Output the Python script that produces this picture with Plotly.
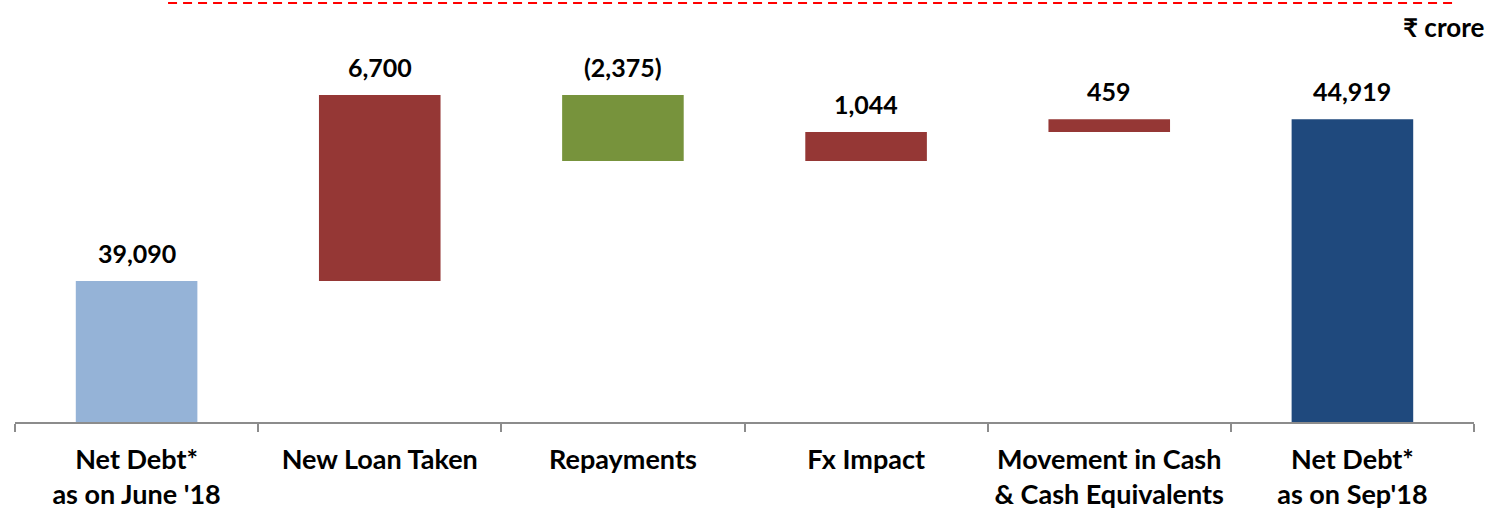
import plotly.graph_objects as go

categories = ["Net Debt*<br>as on June '18", "New Loan Taken", "Repayments",
              "Fx Impact", "Movement in Cash<br>& Cash Equivalents",
              "Net Debt*<br>as on Sep'18"]
opening = 39090
changes = [6700, -2375, 1044, 459]
closing = 44919
colors = ["#95B3D7", "#953735", "#77933C", "#953735", "#953735", "#1F497D"]

# floating bars: base + height
bases, heights, labels = [0], [opening], ["{:,}".format(opening)]
run = opening
for c in changes:
    if c >= 0:
        bases.append(run)
        heights.append(c)
        labels.append("{:,}".format(c))
    else:
        bases.append(run + c)
        heights.append(-c)
        labels.append("({:,})".format(-c))
    run += c
bases.append(0)
heights.append(closing)
labels.append("{:,}".format(closing))

fig = go.Figure(go.Bar(
    x=categories, y=heights, base=bases,
    marker=dict(color=colors, line=dict(width=0)),
    width=0.5, hoverinfo="skip",
))

# value labels above each bar
for cat, b, h, lab in zip(categories, bases, heights, labels):
    fig.add_annotation(x=cat, y=b + h, text=lab, showarrow=False,
                       yanchor="bottom", yshift=11,
                       font=dict(family="Lato", size=25, color="black", weight="bold"))

fig.update_layout(
    width=1490, height=509,
    margin=dict(l=15, r=16, t=10, b=87),
    plot_bgcolor="white", paper_bgcolor="white",
    showlegend=False,
    font=dict(family="Lato", color="black"),
)
fig.update_xaxes(
    range=[-0.5, 5.5], showline=True, linecolor="#8c8c8c", linewidth=1.5,
    ticks="outside", tickson="boundaries", ticklen=8, tickcolor="#8c8c8c", tickwidth=1.5,
    ticklabelstandoff=13, automargin=False,
    tickfont=dict(family="Lato", size=27, color="black", weight="bold"),
)
fig.update_yaxes(range=[34010, 48851], visible=False, showgrid=False, automargin=False)

fig.add_annotation(text="₹ crore", xref="paper", yref="paper", x=1.0082, y=0.959,
                   xanchor="right", yanchor="middle", showarrow=False,
                   font=dict(family="Lato", size=26, color="black", weight="bold"))
fig.add_shape(type="line", xref="paper", yref="paper", x0=0.1049, x1=0.989, y0=1.017, y1=1.017,
              line=dict(color="#FF0000", width=2, dash="9px,6px"))

fig.write_html("out.html", config={"displayModeBar": False},
               post_script="document.body.style.margin='0';")
